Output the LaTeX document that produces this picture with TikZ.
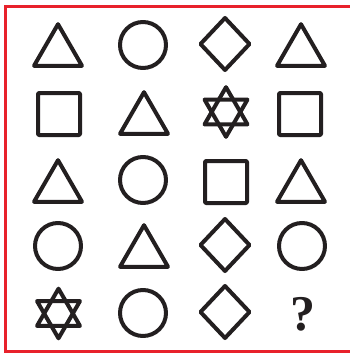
\documentclass[tikz,border=0pt]{standalone}
\usepackage{fontspec}
\newfontfamily\qfont{Liberation Serif}
\definecolor{ink}{HTML}{231F20}
\definecolor{framered}{HTML}{E8212B}
\tikzset{
  shapeline/.style={draw=ink, line width=4pt, line join=round},
  tripic/.pic={\draw[shapeline] (-24,20.8) -- (24,20.8) -- (0,-20.8) -- cycle;},
  circpic/.pic={\draw[shapeline] (0,0) circle (23);},
  sqpic/.pic={\draw[shapeline, rounded corners=1pt] (-21,-21) rectangle (21,21);},
  diapic/.pic={\draw[shapeline] (-24.5,0) -- (0,-26) -- (24.5,0) -- (0,26) -- cycle;},
  starpic/.pic={\draw[shapeline] (-21.5,12.4) -- (21.5,12.4) -- (0,-24.8) -- cycle;
                \draw[shapeline] (-21.5,-12.4) -- (21.5,-12.4) -- (0,24.8) -- cycle;},
}
\begin{document}
\begin{tikzpicture}[x=1pt,y=-1pt]
\useasboundingbox (0,0) rectangle (350,353);
\fill[white] (0,0) rectangle (350,353);
% red frame
\draw[framered, line width=3pt] (356,7) -- (5,7) -- (5,351.5) -- (356,351.5);
% row 1
\pic at (58,45) {tripic};
\pic at (143,45) {circpic};
\pic at (225,44) {diapic};
\pic at (301,45) {tripic};
% row 2
\pic at (59,114) {sqpic};
\pic at (144,113) {tripic};
\pic at (226,112) {starpic};
\pic at (300,114) {sqpic};
% row 3
\pic at (58,181) {tripic};
\pic at (143,180) {circpic};
\pic at (226,182) {sqpic};
\pic at (301,181) {tripic};
% row 4
\pic at (58,246) {circpic};
\pic at (144,246) {tripic};
\pic at (225,245) {diapic};
\pic at (302,246) {circpic};
% row 5
\pic at (58.5,313.5) {starpic};
\pic at (143,313) {circpic};
\pic at (225,312) {diapic};
\node[text=ink, font=\fontsize{50}{50}\selectfont\qfont\bfseries, inner sep=0pt] (q) at (303,314) {?};
\end{tikzpicture}
\end{document}
